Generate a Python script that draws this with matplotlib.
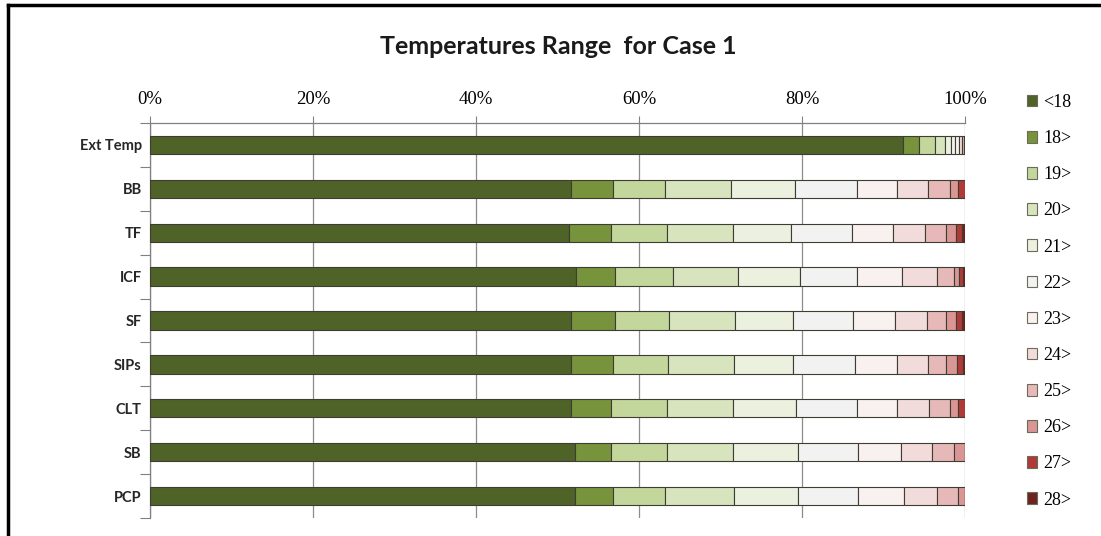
import matplotlib
matplotlib.use("Agg")
import matplotlib.pyplot as plt
import numpy as np
from matplotlib.lines import Line2D
from matplotlib.patches import Patch

plt.rcParams["font.family"] = ["Lato", "DejaVu Sans"]
SERIF = ["Liberation Serif", "DejaVu Serif"]

# rows top to bottom
rows = ["Ext Temp", "BB", "TF", "ICF", "SF", "SIPs", "CLT", "SB", "PCP"]

# share of hours (%) in each temperature band, one list per band
lt18 = [92.4, 51.7, 51.4, 52.3, 51.6, 51.7, 51.7, 52.1, 52.1]
t18 = [2.0, 5.1, 5.2, 4.7, 5.4, 5.1, 4.9, 4.5, 4.7]
t19 = [1.9, 6.4, 6.8, 7.2, 6.7, 6.7, 6.8, 6.8, 6.4]
t20 = [1.3, 8.1, 8.1, 8.0, 8.1, 8.1, 8.1, 8.1, 8.4]
t21 = [0.7, 7.8, 7.1, 7.5, 7.1, 7.3, 7.8, 8.0, 7.9]
t22 = [0.5, 7.6, 7.5, 7.0, 7.4, 7.6, 7.4, 7.4, 7.4]
t23 = [0.5, 4.9, 5.1, 5.6, 5.1, 5.1, 5.0, 5.2, 5.6]
t24 = [0.3, 3.9, 3.9, 4.3, 3.9, 3.8, 3.9, 3.9, 4.1]
t25 = [0.3, 2.7, 2.6, 2.0, 2.4, 2.3, 2.6, 2.7, 2.5]
t26 = [0.1, 1.0, 1.2, 0.7, 1.2, 1.3, 1.0, 1.3, 0.9]
t27 = [0.0, 0.8, 0.7, 0.5, 0.7, 0.8, 0.8, 0.0, 0.0]
t28 = [0.0, 0.0, 0.4, 0.2, 0.4, 0.2, 0.0, 0.0, 0.0]

band_labels = ["<18", "18>", "19>", "20>", "21>", "22>", "23>", "24>", "25>", "26>", "27>", "28>"]
band_values = [lt18, t18, t19, t20, t21, t22, t23, t24, t25, t26, t27, t28]
band_colors = ["#4F6228", "#77933C", "#C3D69B", "#D7E4BD", "#EBF1DE", "#F2F2F2",
               "#F9F0F0", "#F2DCDB", "#E6B9B8", "#D99694", "#B03A37", "#6E2220"]

data = np.array(band_values, dtype=float)
data = data / data.sum(axis=0, keepdims=True)  # 100% stacked

fig = plt.figure(figsize=(11.01, 5.36), dpi=100)
ax = fig.add_axes([150 / 1101, 1 - 518 / 536, 815 / 1101, 395 / 536])

y = np.arange(len(rows))
left = np.zeros(len(rows))
for vals, col in zip(data, band_colors):
    ax.barh(y, vals, left=left, height=0.42, color=col, edgecolor="#3d3d33",
            linewidth=0.8, zorder=3)
    left += vals

ax.set_xlim(0, 1)
ax.set_ylim(len(rows) - 0.5, -0.5)

ax.set_xticks(np.linspace(0, 1, 6))
ax.set_xticklabels([f"{int(v)}%" for v in np.linspace(0, 100, 6)], family=SERIF, fontsize=13.5)
ax.xaxis.tick_top()
ax.tick_params(axis="x", length=5, width=0.8, color="#808080", pad=6)
ax.grid(axis="x", color="#8c8c8c", linewidth=0.9, zorder=0)

ax.set_yticks(y)
ax.set_yticklabels(rows, fontsize=10.5, fontweight="bold", color="#262626")
ax.set_yticks(np.arange(len(rows) + 1) - 0.5, minor=True)
ax.tick_params(axis="y", which="major", length=0, pad=6)
ax.tick_params(axis="y", which="minor", length=7, width=0.8, color="#808080")

for s in ["right", "bottom"]:
    ax.spines[s].set_visible(False)
for s in ["top", "left"]:
    ax.spines[s].set_color("#808080")
    ax.spines[s].set_linewidth(0.9)

fig.text(558 / 1101, 1 - 47 / 536, "Temperatures Range  for Case 1", ha="center", va="center",
         fontsize=18, fontweight="bold", color="#1a1a1a")

handles = [Patch(facecolor=c, edgecolor="#6b6b5a", linewidth=0.8) for c in band_colors]
fig.legend(handles, band_labels, loc="upper left", bbox_to_anchor=(1018 / 1101, 1 - 85 / 536),
           frameon=False, prop={"family": SERIF, "size": 13}, handlelength=0.55,
           handleheight=0.6, handletextpad=0.35, labelspacing=1.06, borderpad=0)

# outer chart frame (left and top edges visible in the crop)
fig.add_artist(Line2D([8 / 1101, 8 / 1101], [0, 1 - 5 / 536], transform=fig.transFigure,
                      color="black", linewidth=2.5))
fig.add_artist(Line2D([8 / 1101, 1], [1 - 5 / 536, 1 - 5 / 536], transform=fig.transFigure,
                      color="black", linewidth=2.5))

fig.savefig("out.png", dpi=100)
